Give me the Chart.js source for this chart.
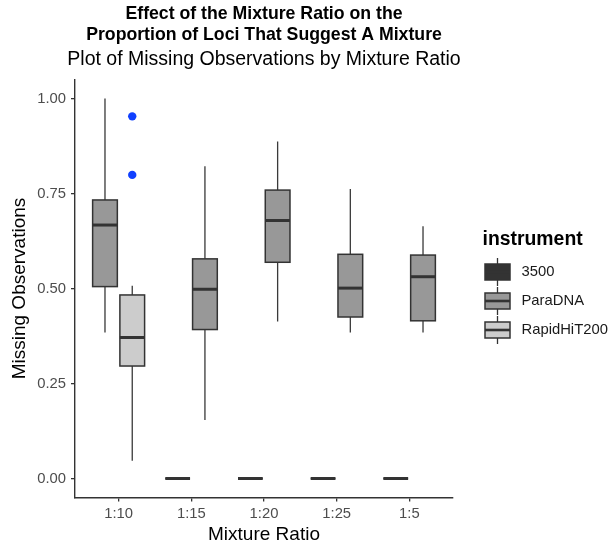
<!DOCTYPE html>
<html>
<head>
<meta charset="utf-8">
<title>Missing Observations by Mixture Ratio</title>
<script src="https://cdn.jsdelivr.net/npm/chart.js@4.4.1/dist/chart.umd.min.js"></script>
<style>
  html, body { margin: 0; padding: 0; background: #ffffff; }
  #boxChart { display: block; }
</style>
</head>
<body>
<canvas id="boxChart" width="613" height="546"></canvas>
<script>
// ========== Data ==========
const categories = ["1:10", "1:15", "1:20", "1:25", "1:5"];
const instruments = ["3500", "ParaDNA", "RapidHiT200"];
const instrumentFills = ["#333333", "#989898", "#cccccc"];

// [lower whisker, Q1, median, Q3, upper whisker] per category, null = no data
const box3500 = [
  null,
  [0, 0, 0, 0, 0],
  [0, 0, 0, 0, 0],
  [0, 0, 0, 0, 0],
  [0, 0, 0, 0, 0],
];
const boxParaDNA = [
  [0.384, 0.505, 0.667, 0.733, 1.0],
  [0.154, 0.392, 0.498, 0.578, 0.822],
  [0.413, 0.569, 0.679, 0.759, 0.887],
  [0.384, 0.425, 0.501, 0.59, 0.762],
  [0.384, 0.415, 0.531, 0.588, 0.664],
];
const boxRapidHiT200 = [
  [0.047, 0.296, 0.371, 0.483, 0.507],
  null,
  null,
  null,
  null,
];
const boxSeries = [box3500, boxParaDNA, boxRapidHiT200];

// outliers (RapidHiT200 at 1:10)
const outlierCategory = ["1:10", "1:10"];
const outlierInstrument = ["RapidHiT200", "RapidHiT200"];
const outlierValues = [0.953, 0.799];

const yTicks = [0, 0.25, 0.5, 0.75, 1];

const FONT = "'Liberation Sans', Arial, Helvetica, sans-serif";
Chart.defaults.font.family = FONT;

const dodgeWidth = 0.375;
const boxHalf = 0.17;

// centre of a box on the x scale, dodged among the instruments present
function dodgedX(catIndex, instrIndex) {
  const present = [];
  boxSeries.forEach((s, k) => {
    if (s[catIndex]) present.push(k);
  });
  const slot = present.indexOf(instrIndex);
  return catIndex + 1 + (slot - (present.length - 1) / 2) * dodgeWidth;
}

const outlierPoints = outlierValues.map((v, i) => ({
  x: dodgedX(categories.indexOf(outlierCategory[i]), instruments.indexOf(outlierInstrument[i])),
  y: v,
}));

// ========== Box plots ==========
const boxPlugin = {
  id: "boxes",
  beforeDatasetsDraw(chart) {
    const { ctx, scales } = chart;
    const xs = scales.x, ys = scales.y;
    ctx.save();
    ctx.lineCap = "butt";
    boxSeries.forEach((series, k) => {
      series.forEach((stats, i) => {
        if (!stats) return;
        const [lo, q1, med, q3, hi] = stats;
        const c = dodgedX(i, k);
        const xc = xs.getPixelForValue(c);
        const xl = xs.getPixelForValue(c - boxHalf);
        const xr = xs.getPixelForValue(c + boxHalf);
        const yTop = ys.getPixelForValue(q3);
        const yBot = ys.getPixelForValue(q1);
        const yMed = ys.getPixelForValue(med);

        // whiskers
        ctx.strokeStyle = "#3a3a3a";
        ctx.lineWidth = 1.3;
        ctx.beginPath();
        ctx.moveTo(xc, ys.getPixelForValue(hi));
        ctx.lineTo(xc, yTop);
        ctx.moveTo(xc, yBot);
        ctx.lineTo(xc, ys.getPixelForValue(lo));
        ctx.stroke();

        // box
        ctx.strokeStyle = "#333333";
        ctx.lineWidth = 1.5;
        ctx.fillStyle = instrumentFills[k];
        ctx.fillRect(xl, yTop, xr - xl, yBot - yTop);
        ctx.strokeRect(xl, yTop, xr - xl, yBot - yTop);

        // median
        ctx.lineWidth = 3;
        ctx.beginPath();
        ctx.moveTo(xl, yMed);
        ctx.lineTo(xr, yMed);
        ctx.stroke();
      });
    });
    ctx.restore();
  },
};

// ========== Titles and legend ==========
const decorPlugin = {
  id: "decor",
  afterDraw(chart) {
    const { ctx, chartArea } = chart;
    const cx = (chartArea.left + chartArea.right) / 2;
    ctx.save();
    ctx.fillStyle = "#000000";
    ctx.textAlign = "center";
    ctx.textBaseline = "middle";
    ctx.font = "bold 17.7px " + FONT;
    ctx.fillText("Effect of the Mixture Ratio on the", cx, 14);
    ctx.fillText("Proportion of Loci That Suggest A Mixture", cx, 35);
    ctx.font = "19.5px " + FONT;
    ctx.fillText("Plot of Missing Observations by Mixture Ratio", cx, 60);

    // legend
    ctx.textAlign = "left";
    ctx.font = "bold 19.4px " + FONT;
    ctx.fillText("instrument", 482.5, 240);
    const keyY = [272, 301, 330];
    const kx = 497.5;
    instruments.forEach((name, k) => {
      const cy = keyY[k];
      ctx.strokeStyle = "#333333";
      ctx.lineWidth = 1.3;
      ctx.beginPath();
      ctx.moveTo(kx, cy - 14);
      ctx.lineTo(kx, cy + 14);
      ctx.stroke();
      ctx.lineWidth = 1.5;
      ctx.fillStyle = instrumentFills[k];
      ctx.fillRect(kx - 12.5, cy - 8, 25, 16);
      ctx.strokeRect(kx - 12.5, cy - 8, 25, 16);
      ctx.lineWidth = 2.6;
      ctx.beginPath();
      ctx.moveTo(kx - 12.5, cy);
      ctx.lineTo(kx + 12.5, cy);
      ctx.stroke();
      ctx.fillStyle = "#1a1a1a";
      ctx.font = "14.8px " + FONT;
      ctx.fillText(name, 521.5, cy);
    });
    ctx.restore();
  },
};

// ========== Chart ==========
const ctx = document.getElementById("boxChart").getContext("2d");
new Chart(ctx, {
  type: "scatter",
  data: {
    datasets: [
      {
        label: "outliers",
        data: outlierPoints,
        pointRadius: 4.2,
        pointHoverRadius: 4.2,
        pointBorderWidth: 0,
        pointBackgroundColor: "#1040ff",
        pointBorderColor: "#1040ff",
      },
    ],
  },
  options: {
    responsive: false,
    animation: false,
    events: [],
    layout: { padding: { top: 79.5, right: 160, left: 0, bottom: 0 } },
    plugins: {
      legend: { display: false },
      tooltip: { enabled: false },
      title: { display: false },
    },
    scales: {
      x: {
        type: "linear",
        min: 0.4,
        max: 5.6,
        afterBuildTicks: (s) => {
          s.ticks = categories.map((c, i) => ({ value: i + 1 }));
        },
        afterFit: (s) => {
          s.height = 48.5;
        },
        ticks: {
          callback: (v) => categories[Math.round(v) - 1],
          color: "#4d4d4d",
          font: { size: 14.8 },
          padding: 4,
          autoSkip: false,
          maxRotation: 0,
        },
        grid: {
          drawOnChartArea: false,
          drawTicks: true,
          tickLength: 4,
          color: "#333333",
          lineWidth: 1.3,
        },
        border: { display: true, color: "#333333", width: 1.4 },
        title: {
          display: true,
          text: "Mixture Ratio",
          color: "#000000",
          font: { size: 19 },
          padding: { top: 0, bottom: 0 },
        },
      },
      y: {
        min: -0.05,
        max: 1.05,
        afterBuildTicks: (s) => {
          s.ticks = yTicks.map((v) => ({ value: v }));
        },
        afterFit: (s) => {
          s.width = 75;
        },
        ticks: {
          callback: (v) => v.toFixed(2),
          color: "#4d4d4d",
          font: { size: 14.8 },
          padding: 5,
        },
        grid: {
          drawOnChartArea: false,
          drawTicks: true,
          tickLength: 4,
          color: "#333333",
          lineWidth: 1.3,
        },
        border: { display: true, color: "#333333", width: 1.4 },
        title: {
          display: true,
          text: "Missing Observations",
          color: "#000000",
          font: { size: 19 },
          padding: { top: 8, bottom: 0 },
        },
      },
    },
  },
  plugins: [boxPlugin, decorPlugin],
});
</script>
</body>
</html>
